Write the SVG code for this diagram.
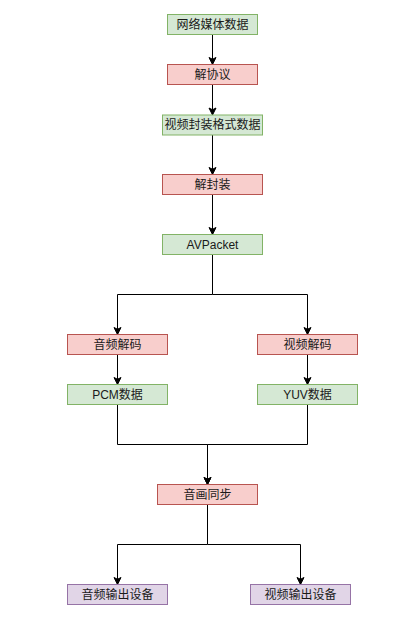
<svg xmlns="http://www.w3.org/2000/svg" width="408" height="640" viewBox="0 0 408 640">
<style>
.g{fill:#d5e8d4;stroke:#82b366;stroke-width:1}
.r{fill:#f8cecc;stroke:#b85450;stroke-width:1}
.p{fill:#e1d5e7;stroke:#9673a6;stroke-width:1}
text{font-family:"Liberation Sans","Noto Sans CJK SC",sans-serif;font-size:12px;fill:#1a1a1a;text-anchor:middle;dominant-baseline:central}
.e{fill:none;stroke:#000;stroke-width:1;marker-end:url(#a)}
</style>
<defs>
<marker id="a" markerUnits="userSpaceOnUse" markerWidth="10" markerHeight="10" viewBox="-8 -5 10 10" refX="0" refY="0" orient="auto">
<path d="M0,0 L-7,-3.5 L-5.25,0 L-7,3.5 Z" fill="#000" stroke="#000" stroke-width="1"/>
</marker>
</defs>
<rect width="408" height="640" fill="#fff"/>
<g id="edges">
<path class="e" d="M212.5,34.5V64.5"/>
<path class="e" d="M212.5,84.5V115"/>
<path class="e" d="M212.5,135V174.5"/>
<path class="e" d="M212.5,194.5V234.5"/>
<path class="e" d="M212.5,254.5V294.5H117.5V334.5"/>
<path class="e" d="M212.5,294.5H307.5V334.5"/>
<path class="e" d="M117.5,354.5V384.5"/>
<path class="e" d="M307.5,354.5V384.5"/>
<path class="e" d="M117.5,404.5V444.5H207.5V484.5"/>
<path class="e" d="M307.5,404.5V444.5H207.5V484.5"/>
<path class="e" d="M207.5,504.5V544.5H117.5V584.5"/>
<path class="e" d="M207.5,544.5H300.5V584.5"/>
</g>
<g id="n1"><rect class="g" x="167.5" y="14.5" width="90" height="20"/><text x="212.5" y="24.5">网络媒体数据</text></g>
<g id="n2"><rect class="r" x="167.5" y="64.5" width="90" height="20"/><text x="212.5" y="74.5">解协议</text></g>
<g id="n3"><rect class="g" x="162.5" y="115" width="100" height="20"/><text x="212.5" y="125">视频封装格式数据</text></g>
<g id="n4"><rect class="r" x="162.5" y="174.5" width="100" height="20"/><text x="212.5" y="184.5">解封装</text></g>
<g id="n5"><rect class="g" x="162.5" y="234.5" width="100" height="20"/><text x="212.5" y="244.5">AVPacket</text></g>
<g id="n6"><rect class="r" x="67.5" y="334.5" width="100" height="20"/><text x="117.5" y="344.5">音频解码</text></g>
<g id="n7"><rect class="r" x="257.5" y="334.5" width="100" height="20"/><text x="307.5" y="344.5">视频解码</text></g>
<g id="n8"><rect class="g" x="67.5" y="384.5" width="100" height="20"/><text x="117.5" y="394.5">PCM数据</text></g>
<g id="n9"><rect class="g" x="257.5" y="384.5" width="100" height="20"/><text x="307.5" y="394.5">YUV数据</text></g>
<g id="n10"><rect class="r" x="157.5" y="484.5" width="100" height="20"/><text x="207.5" y="494.5">音画同步</text></g>
<g id="n11"><rect class="p" x="67.5" y="584.5" width="100" height="20"/><text x="117.5" y="594.5">音频输出设备</text></g>
<g id="n12"><rect class="p" x="250.5" y="584.5" width="100" height="20"/><text x="300.5" y="594.5">视频输出设备</text></g>
</svg>
